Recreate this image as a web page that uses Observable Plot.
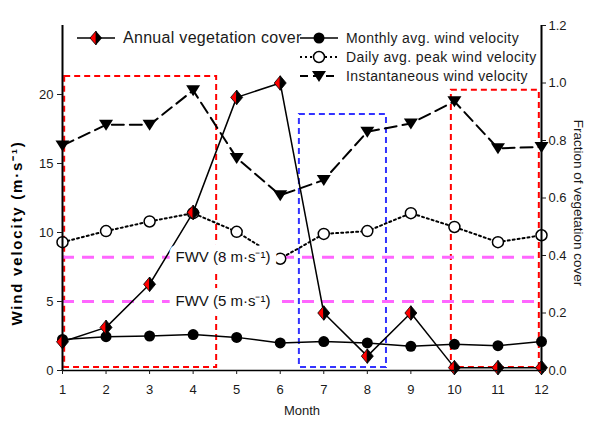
<!DOCTYPE html>
<html><head><meta charset="utf-8">
<script src="https://cdn.jsdelivr.net/npm/d3@7"></script>
<script src="https://cdn.jsdelivr.net/npm/@observablehq/plot@0.6"></script>
<style>
body{margin:0;background:#fff;font-family:"Liberation Sans",Arial,sans-serif;color:#1a1a1a;}
#wrap{position:relative;width:605px;height:433px;}
.li{position:absolute;display:flex;align-items:center;height:18px;white-space:nowrap;}
.li svg{display:block;margin-right:8px;}
.ytitle text{letter-spacing:1.8px;}
</style></head><body><div id="wrap"></div>
<script>
const months = [1,2,3,4,5,6,7,8,9,10,11,12];
const vegCover = [0.10,0.15,0.30,0.55,0.95,1.00,0.20,0.05,0.20,0.01,0.01,0.01];
const monthlyAvg = [2.25,2.45,2.5,2.6,2.4,2.0,2.1,2.0,1.75,1.9,1.8,2.1];
const dailyPeak = [9.3,10.1,10.8,11.4,10.05,8.1,9.9,10.1,11.4,10.4,9.3,9.8];
const instantaneous = [16.3,17.8,17.8,20.3,15.4,12.7,13.8,17.3,17.9,19.5,16.1,16.2];
const fwvLevels = [8.2, 5];
const fwvLabels = ["FWV (8 m·s⁻¹)", "FWV (5 m·s⁻¹)"];
const leftTicks = [0,5,10,15,20];
const rightTicks = [0,0.2,0.4,0.6,0.8,1.0,1.2];
const redPeriods = [{x1:1.05,x2:4.54,y1:0.22,y2:21.3},{x1:9.93,x2:11.95,y1:0.22,y2:20.3}];
const bluePeriods = [{x1:6.44,x2:8.44,y1:0.22,y2:18.55}];

const k = 25/1.2;
const rows = months.map((m,i)=>({m, veg: vegCover[i]*k, avg: monthlyAvg[i], peak: dailyPeak[i], inst: instantaneous[i]}));

const halfDiamond = side => ({draw(ctx,size){const r=Math.sqrt(size/Math.PI);const w=r,h=r*1.2;ctx.moveTo(0,-h);ctx.lineTo(side*w,0);ctx.lineTo(0,h);ctx.closePath();}});
const triDown = {draw(ctx,size){const r=Math.sqrt(size/Math.PI);ctx.moveTo(-r,-r*0.72);ctx.lineTo(r,-r*0.72);ctx.lineTo(0,r*0.85);ctx.closePath();}};

const chart = Plot.plot({
  width: 605, height: 433,
  marginLeft: 62, marginRight: 64, marginTop: 25, marginBottom: 63,
  style: {fontFamily: "Liberation Sans, Arial, sans-serif", fontSize: "13px", color: "#1a1a1a", background: "#fff"},
  x: {domain: [1,12], label: null},
  y: {domain: [0,25], label: null},
  marks: [
    Plot.rect(redPeriods, {x1:"x1", x2:"x2", y1:"y1", y2:"y2", fill:"none", stroke:"#ff0000", strokeWidth:2, strokeDasharray:"6,4"}),
    Plot.rect(bluePeriods, {x1:"x1", x2:"x2", y1:"y1", y2:"y2", fill:"none", stroke:"#3333ff", strokeWidth:2, strokeDasharray:"6,4"}),
    Plot.ruleY(fwvLevels, {stroke:"#ff66ff", strokeWidth:3, strokeDasharray:"12,8"}),
    Plot.line(rows, {x:"m", y:"inst", stroke:"black", strokeWidth:2, strokeDasharray:"12,6"}),
    Plot.line(rows, {x:"m", y:"peak", stroke:"black", strokeWidth:2, strokeDasharray:"2,3"}),
    Plot.line(rows, {x:"m", y:"avg", stroke:"black", strokeWidth:1.5}),
    Plot.line(rows, {x:"m", y:"veg", stroke:"black", strokeWidth:1.5}),
    Plot.dot(rows, {x:"m", y:"inst", symbol: triDown, r:7, fill:"black", stroke:"none"}),
    Plot.dot(rows, {x:"m", y:"peak", r:5.5, fill:"white", stroke:"black", strokeWidth:1.5}),
    Plot.dot(rows, {x:"m", y:"avg", r:5.5, fill:"black", stroke:"none"}),
    Plot.dot(rows, {x:"m", y:"veg", symbol: halfDiamond(-1), r:6, fill:"#ff0000", stroke:"black", strokeWidth:0.8}),
    Plot.dot(rows, {x:"m", y:"veg", symbol: halfDiamond(1), r:6, fill:"black", stroke:"black", strokeWidth:0.8}),
    Plot.text(fwvLevels, {y: d=>d, text:(d,i)=>fwvLabels[i], frameAnchor:"left", dx:113, textAnchor:"start", fill:"#111", stroke:"white", strokeWidth:14, paintOrder:"stroke", fontSize:15}),
    Plot.ruleY([0], {stroke:"black", strokeWidth:1.5}),
    Plot.ruleX([1], {stroke:"black", strokeWidth:2}),
    Plot.ruleX([12], {stroke:"black", strokeWidth:2}),
    Plot.axisX({ticks: months, tickSize:4, tickPadding:10, label:null, fontSize:13}),
    Plot.axisY({ticks: leftTicks, anchor:"left", tickSize:5, tickPadding:4, label:null, fontSize:13}),
    Plot.axisY(rightTicks.map(t=>t*k), {anchor:"right", tickSize:4, tickPadding:3, tickFormat: d=>(d/k).toFixed(1), label:null, fontSize:13}),
    Plot.text(["Wind velocity (m·s⁻¹)"], {frameAnchor:"left", textAnchor:"middle", dx:-45, dy:35, rotate:-90, fontWeight:"bold", fontSize:15, fill:"black", className:"ytitle"}),
    Plot.text(["Fraction of vegetation cover"], {frameAnchor:"right", textAnchor:"middle", dx:37, dy:5, rotate:90, fontSize:13.5, fill:"#1a1a1a"}),
    Plot.text(["Month"], {frameAnchor:"bottom", textAnchor:"middle", dy:44, fontSize:13, fill:"#1a1a1a"})
  ]
});
const wrap = document.getElementById("wrap");
wrap.appendChild(chart);

const sw = {
  veg: '<svg width="38" height="16"><line x1="0" y1="8" x2="38" y2="8" stroke="black" stroke-width="1.5"/><polygon points="19,1 13,8 19,15" fill="#ff0000" stroke="black" stroke-width="0.8"/><polygon points="19,1 25,8 19,15" fill="black"/></svg>',
  avg: '<svg width="38" height="16"><line x1="0" y1="8" x2="38" y2="8" stroke="black" stroke-width="1.5"/><circle cx="19" cy="8" r="5.5" fill="black"/></svg>',
  peak: '<svg width="38" height="16"><line x1="0" y1="8" x2="38" y2="8" stroke="black" stroke-width="2" stroke-dasharray="2,3"/><circle cx="19" cy="8" r="5.5" fill="white" stroke="black" stroke-width="1.5"/></svg>',
  inst: '<svg width="38" height="16"><line x1="0" y1="8" x2="38" y2="8" stroke="black" stroke-width="2" stroke-dasharray="8,5"/><polygon points="12,3 26,3 19,14" fill="black"/></svg>'
};
const legendItems = [
  {key:"veg", text:"Annual vegetation cover", left:77, cy:38, fs:16, ls:0.3},
  {key:"avg", text:"Monthly avg. wind velocity", left:300, cy:38, fs:14, ls:0.4},
  {key:"peak", text:"Daily avg. peak wind velocity", left:300, cy:57, fs:14, ls:0.4},
  {key:"inst", text:"Instantaneous wind velocity", left:300, cy:76, fs:14, ls:0.4}
];
legendItems.forEach(it=>{
  const d = document.createElement("div");
  d.className = "li";
  d.style.left = it.left + "px";
  d.style.top = (it.cy - 9) + "px";
  d.style.fontSize = it.fs + "px";
  d.style.letterSpacing = it.ls + "px";
  d.innerHTML = sw[it.key] + '<span>' + it.text + '</span>';
  wrap.appendChild(d);
});
</script>
</body></html>
